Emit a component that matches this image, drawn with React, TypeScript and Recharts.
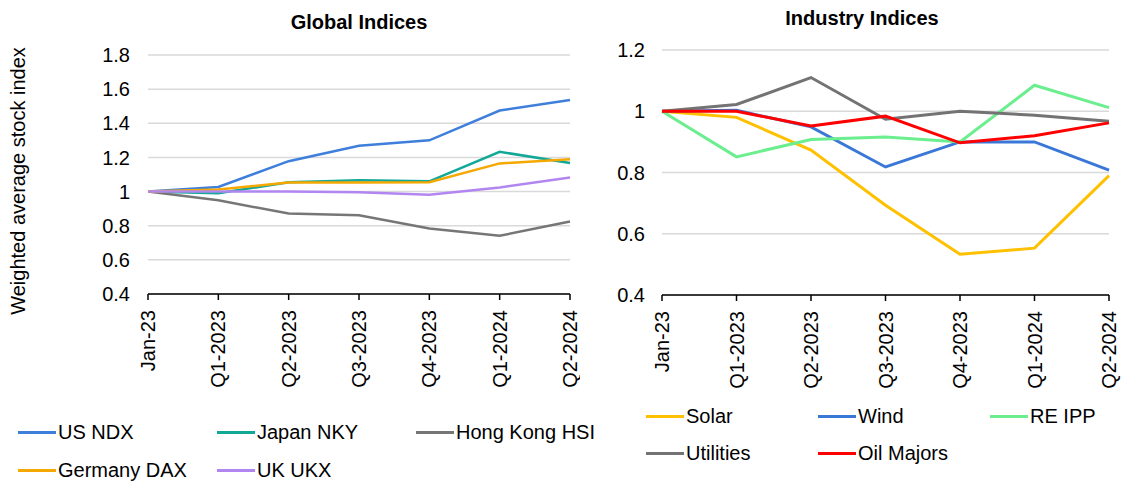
import React from "react";
import { LineChart, Line, XAxis, YAxis, CartesianGrid } from "recharts";

const FONT = "'Liberation Sans', Arial, sans-serif";

const periods = ["Jan-23", "Q1-2023", "Q2-2023", "Q3-2023", "Q4-2023", "Q1-2024", "Q2-2024"];

// Global indices (rebased to Jan-23 = 1)
const usNdx = [1.0, 1.027, 1.178, 1.268, 1.3, 1.475, 1.537];
const japanNky = [1.0, 0.99, 1.055, 1.066, 1.06, 1.233, 1.167];
const hongKongHsi = [1.0, 0.949, 0.871, 0.861, 0.784, 0.741, 0.825];
const germanyDax = [1.0, 1.012, 1.053, 1.053, 1.055, 1.165, 1.19];
const ukUkx = [1.0, 1.0, 1.0, 0.996, 0.982, 1.024, 1.082];

// Industry indices
const solar = [1.0, 0.98, 0.873, 0.693, 0.533, 0.553, 0.79];
const wind = [1.0, 1.003, 0.949, 0.818, 0.9, 0.9, 0.808];
const reIpp = [1.0, 0.851, 0.908, 0.916, 0.9, 1.085, 1.012];
const utilities = [1.0, 1.022, 1.11, 0.974, 1.0, 0.987, 0.967];
const oilMajors = [1.0, 1.0, 0.952, 0.984, 0.897, 0.92, 0.962];

const globalTicks = [0.4, 0.6, 0.8, 1, 1.2, 1.4, 1.6, 1.8];
const industryTicks = [0.4, 0.6, 0.8, 1, 1.2];

const globalSeries = [
  { key: "usNdx", name: "US NDX", values: usNdx, color: "#3F7FDC" },
  { key: "japanNky", name: "Japan NKY", values: japanNky, color: "#12A898" },
  { key: "hongKongHsi", name: "Hong Kong HSI", values: hongKongHsi, color: "#767676" },
  { key: "germanyDax", name: "Germany DAX", values: germanyDax, color: "#F5A800" },
  { key: "ukUkx", name: "UK UKX", values: ukUkx, color: "#B286F0" },
];

const industrySeries = [
  { key: "solar", name: "Solar", values: solar, color: "#FFC000" },
  { key: "wind", name: "Wind", values: wind, color: "#3A78D8" },
  { key: "reIpp", name: "RE IPP", values: reIpp, color: "#6AEE8E" },
  { key: "utilities", name: "Utilities", values: utilities, color: "#737373" },
  { key: "oilMajors", name: "Oil Majors", values: oilMajors, color: "#FF0000" },
];

type Series = { key: string; name: string; values: number[]; color: string };

function buildRows(series: Series[]) {
  return periods.map((p, i) => {
    const row: Record<string, string | number> = { period: p };
    series.forEach((s) => (row[s.key] = s.values[i]));
    return row;
  });
}

const globalData = buildRows(globalSeries);
const industryData = buildRows(industrySeries);

const RotatedTick = (props: any) => {
  const { x, y, payload } = props;
  return (
    <text
      x={x}
      y={y}
      transform={`rotate(-90 ${x} ${y})`}
      textAnchor="end"
      dominantBaseline="central"
      fill="#000"
      fontSize={20}
      fontFamily={FONT}
    >
      {payload.value}
    </text>
  );
};

function LegendBlock({
  series,
  left,
  top,
  colWidth,
  rowGap,
}: {
  series: Series[];
  left: number;
  top: number;
  colWidth: number;
  rowGap: number;
}) {
  return (
    <>
      {series.map((s, i) => (
        <div
          key={s.key}
          style={{
            position: "absolute",
            left: left + (i % 3) * colWidth,
            top: top + Math.floor(i / 3) * rowGap - 12,
            height: 24,
            display: "flex",
            alignItems: "center",
            fontFamily: FONT,
            fontSize: 20,
            color: "#000",
            whiteSpace: "nowrap",
          }}
        >
          <span
            style={{
              display: "inline-block",
              width: 38,
              height: 3,
              background: s.color,
              marginRight: 2,
            }}
          />
          {s.name}
        </div>
      ))}
    </>
  );
}

export default function App() {
  const tickStyle = { fill: "#000", fontSize: 20, fontFamily: FONT };
  return (
    <div style={{ position: "absolute", left: 0, top: 0, width: 1121, height: 481, background: "#fff", overflow: "hidden" }}>
      {/* titles */}
      <div style={{ position: "absolute", left: 259, top: 10, width: 200, textAlign: "center", fontFamily: FONT, fontWeight: "bold", fontSize: 20, lineHeight: "24px" }}>
        Global Indices
      </div>
      <div style={{ position: "absolute", left: 762, top: 6, width: 200, textAlign: "center", fontFamily: FONT, fontWeight: "bold", fontSize: 20, lineHeight: "24px" }}>
        Industry Indices
      </div>

      {/* left chart */}
      <div style={{ position: "absolute", left: 0, top: 0 }}>
        <LineChart width={580} height={400} data={globalData} margin={{ top: 55, right: 10, left: 0, bottom: 6 }} style={{ overflow: "visible" }}>
          <CartesianGrid vertical={false} stroke="#D9D9D9" strokeWidth={1.5} />
          <XAxis
            dataKey="period"
            interval={0}
            height={100}
            tick={<RotatedTick />}
            tickSize={6}
            tickMargin={10}
            axisLine={{ stroke: "#000", strokeWidth: 1.5 }}
            tickLine={{ stroke: "#000", strokeWidth: 1.5 }}
          />
          <YAxis
            width={148}
            domain={[0.4, 1.8]}
            ticks={globalTicks}
            axisLine={false}
            tickLine={false}
            tickSize={0}
            tickMargin={18}
            tick={tickStyle}
            label={{
              content: () => (
                <text
                  x={18}
                  y={181}
                  transform="rotate(-90 18 181)"
                  textAnchor="middle"
                  dominantBaseline="central"
                  fontSize={20}
                  fontFamily={FONT}
                  fill="#000"
                >
                  Weighted average stock index
                </text>
              ),
            }}
          />
          {globalSeries.map((s) => (
            <Line
              key={s.key}
              dataKey={s.key}
              name={s.name}
              stroke={s.color}
              strokeWidth={2.5}
              dot={false}
              isAnimationActive={false}
            />
          ))}
        </LineChart>
      </div>

      {/* right chart */}
      <div style={{ position: "absolute", left: 580, top: 0 }}>
        <LineChart width={541} height={400} data={industryData} margin={{ top: 50, right: 12, left: 0, bottom: 5 }} style={{ overflow: "visible" }}>
          <CartesianGrid vertical={false} stroke="#D9D9D9" strokeWidth={1.5} />
          <XAxis
            dataKey="period"
            interval={0}
            height={100}
            tick={<RotatedTick />}
            tickSize={6}
            tickMargin={10}
            axisLine={{ stroke: "#000", strokeWidth: 1.5 }}
            tickLine={{ stroke: "#000", strokeWidth: 1.5 }}
          />
          <YAxis
            width={82}
            domain={[0.4, 1.2]}
            ticks={industryTicks}
            axisLine={false}
            tickLine={false}
            tickSize={0}
            tickMargin={17}
            tick={tickStyle}
          />
          {industrySeries.map((s) => (
            <Line
              key={s.key}
              dataKey={s.key}
              name={s.name}
              stroke={s.color}
              strokeWidth={3}
              dot={false}
              isAnimationActive={false}
            />
          ))}
        </LineChart>
      </div>

      <LegendBlock series={globalSeries} left={18} top={432} colWidth={199} rowGap={38} />
      <LegendBlock series={industrySeries} left={646} top={416} colWidth={172} rowGap={37} />
    </div>
  );
}
